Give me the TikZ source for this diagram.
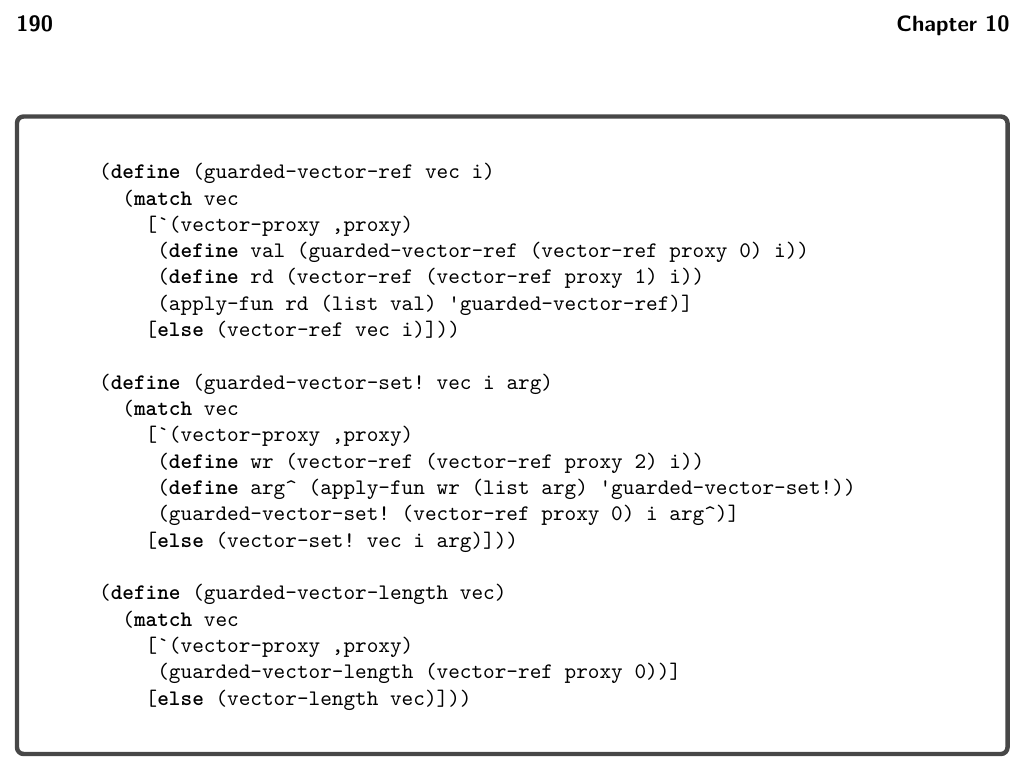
\documentclass[tikz,border=0pt]{standalone}
\usepackage{xcolor}
\definecolor{framegray}{HTML}{474747}
\newcommand{\kw}[1]{\textbf{#1}}
\newcommand{\gravechar}{\textasciigrave}
\newcommand{\quotechar}{\textquotesingle}
\tikzset{
  codeblock/.style={anchor=base west, align=left, inner sep=0pt,
    font=\ttfamily\fontsize{10}{11.85}\selectfont\frenchspacing},
  pagehead/.style={inner sep=0pt, font=\sffamily\bfseries}
}

\begin{document}
\begin{tikzpicture}
      \useasboundingbox (0, 0) rectangle (16.25, 12.239);
      \node[pagehead, anchor=base west] (pagenum) at (0.254, 11.74) {190};
      \node[pagehead, anchor=base east] (chapter) at (16.013, 11.74) {Chapter 10};
      \draw[framegray, line width=2pt, rounded corners=3pt] (0.2695, 0.2854) rectangle (15.973, 10.392);
      % guarded-vector-ref (base = last line)
      \node[codeblock] (vecref) at (1.565, 6.905) {%
        (\kw{define} (guarded-vector-ref vec i)\\
        ~~(\kw{match} vec\\
        ~~~~{[}\gravechar(vector-proxy ,proxy)\\
        ~~~~~(\kw{define} val (guarded-vector-ref (vector-ref proxy 0) i))\\
        ~~~~~(\kw{define} rd (vector-ref (vector-ref proxy 1) i))\\
        ~~~~~(apply-fun rd (list val) \quotechar guarded-vector-ref)]\\
        ~~~~{[}\kw{else} (vector-ref vec i)]))};
      % guarded-vector-set!
      \node[codeblock] (vecset) at (1.565, 3.566) {%
        (\kw{define} (guarded-vector-set! vec i arg)\\
        ~~(\kw{match} vec\\
        ~~~~{[}\gravechar(vector-proxy ,proxy)\\
        ~~~~~(\kw{define} wr (vector-ref (vector-ref proxy 2) i))\\
        ~~~~~(\kw{define} arg\textasciicircum{} (apply-fun wr (list arg) \quotechar guarded-vector-set!))\\
        ~~~~~(guarded-vector-set! (vector-ref proxy 0) i arg\textasciicircum)]\\
        ~~~~{[}\kw{else} (vector-set! vec i arg)]))};
      % guarded-vector-length
      \node[codeblock] (veclen) at (1.565, 1.061) {%
        (\kw{define} (guarded-vector-length vec)\\
        ~~(\kw{match} vec\\
        ~~~~{[}\gravechar(vector-proxy ,proxy)\\
        ~~~~~(guarded-vector-length (vector-ref proxy 0))]\\
        ~~~~{[}\kw{else} (vector-length vec)]))};
\end{tikzpicture}
\end{document}
